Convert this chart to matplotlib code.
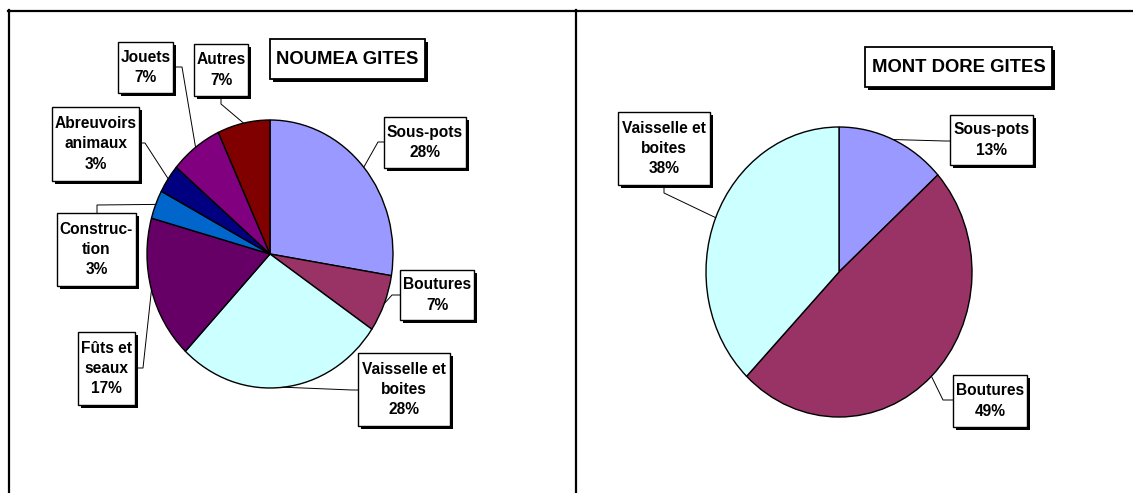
import numpy as np
import matplotlib.pyplot as plt
from matplotlib import patheffects
from matplotlib.lines import Line2D
from matplotlib.patches import Rectangle

plt.rcParams['font.family'] = ['Liberation Sans', 'DejaVu Sans']

# Data (counts, percentages are computed)

noumea_labels = ["Sous-pots", "Boutures", "Vaisselle et\nboites", "Fûts et\nseaux",
                 "Construc-\ntion", "Abreuvoirs\nanimaux", "Jouets", "Autres"]
noumea_counts = [8, 2, 8, 5, 1, 1, 2, 2]
noumea_colors = ["#9999FF", "#993366", "#CCFFFF", "#660066",
                 "#0066CC", "#000080", "#800080", "#800000"]

montdore_labels = ["Sous-pots", "Boutures", "Vaisselle et\nboites"]
montdore_counts = [6, 22, 17]
montdore_colors = ["#9999FF", "#993366", "#CCFFFF"]

# Layout (pixels: x0, y0, x1, y1 for boxes)

W, H = 1133, 493

noumea_layout = dict(
    cx=270, cy=254, rx=123, ry=134, x0=8, x1=576,
    title="NOUMEA GITES", title_box=(270, 39, 425, 79),
    boxes=[(384, 117, 466, 168), (400, 270, 474, 320), (358, 353, 450, 426),
           (78, 332, 135, 405), (57, 213, 136, 286), (52, 107, 139, 181),
           (118, 42, 173, 93), (194, 44, 248, 96)],
    leaders=[[(378, 142), (384, 142)], [(392, 295), (400, 295)],
             [(352, 390), (358, 390)], [(143, 368), (135, 368)],
             [(97, 205), (97, 213)], [(145, 143), (139, 143)],
             [(182, 67), (173, 67)], [(221, 104), (221, 96)]],
)

montdore_layout = dict(
    cx=839, cy=272, rx=133, ry=145, x0=576, x1=1133,
    title="MONT DORE GITES", title_box=(865, 47, 1052, 87),
    boxes=[(950, 115, 1033, 165), (953, 375, 1027, 427), (618, 112, 710, 185)],
    leaders=[[(945, 141), (950, 141)], [(943, 400), (953, 400)],
             [(664, 193), (664, 185)]],
)

fig = plt.figure(figsize=(W / 100, H / 100), dpi=100)

shadow = [patheffects.SimplePatchShadow(offset=(2.2, -2.2), shadow_rgbFace="black", alpha=1),
          patheffects.Normal()]


def draw_pie(counts, labels, colors, lay):
    cx, cy, rx, ry = lay["cx"], lay["cy"], lay["rx"], lay["ry"]
    ax = fig.add_axes([lay["x0"] / W, 0, (lay["x1"] - lay["x0"]) / W, 1])
    wedges, _ = ax.pie(counts, colors=colors, startangle=90, counterclock=False,
                       wedgeprops=dict(edgecolor="black", linewidth=1.0))
    ax.set_aspect("auto")
    ax.set_xlim((lay["x0"] - cx) / rx, (lay["x1"] - cx) / rx)
    ax.set_ylim((cy - H) / ry, cy / ry)
    ax.set_axis_off()

    def d(p):
        return (p[0] - cx) / rx, (cy - p[1]) / ry

    def box(b, lw):
        (ax0, ay1), (ax1, ay0) = d(b[:2]), d(b[2:])
        r = Rectangle((ax0, ay0), ax1 - ax0, ay1 - ay0, facecolor="white",
                      edgecolor="black", linewidth=lw, zorder=4)
        r.set_path_effects(shadow)
        ax.add_patch(r)
        return (ax0 + ax1) / 2, (ay0 + ay1) / 2

    total = sum(counts)
    for w, lab, c, b, lead in zip(wedges, labels, counts, lay["boxes"], lay["leaders"]):
        mid = np.deg2rad((w.theta1 + w.theta2) / 2)
        pts = [(np.cos(mid), np.sin(mid))] + [d(p) for p in lead]
        xs, ys = zip(*pts)
        ax.plot(xs, ys, color="black", linewidth=0.7, zorder=3)
        bx, by = box(b, 1.0)
        ax.text(bx, by, f"{lab}\n{c / total * 100:.0f}%", ha="center", va="center",
                multialignment="center", fontsize=11.2, fontweight="bold",
                linespacing=1.42, zorder=5)

    tx, ty = box(lay["title_box"], 1.3)
    ax.text(tx, ty, lay["title"], ha="center", va="center", fontsize=13.3,
            fontweight="bold", zorder=5)
    return ax


draw_pie(noumea_counts, noumea_labels, noumea_colors, noumea_layout)
draw_pie(montdore_counts, montdore_labels, montdore_colors, montdore_layout)

# Panel frame
frame = [((8.5, 8.5), (0, 483)), ((8, 1133), (482.5, 482.5)), ((576, 576), (0, 483))]
for xs, ys in frame:
    fig.add_artist(Line2D([x / W for x in xs], [y / H for y in ys],
                          transform=fig.transFigure, color="black", linewidth=1.6))

fig.savefig("out.png", dpi=100, facecolor="white")
